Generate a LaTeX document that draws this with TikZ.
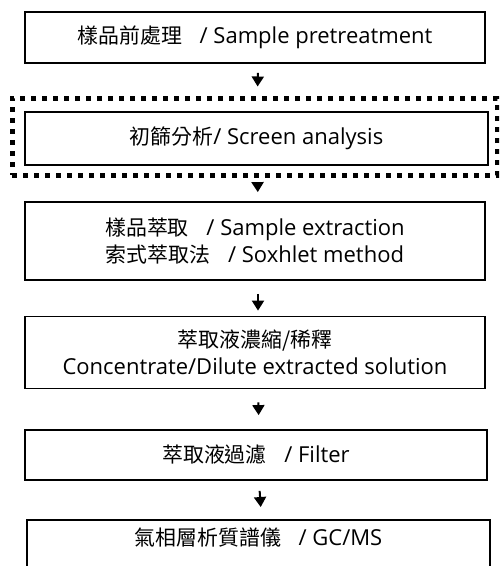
\documentclass[tikz,border=0pt]{standalone}
\usepackage{fontspec}
\setmainfont{Open Sans}
\newfontfamily\cjk[Scale=0.95]{Noto Sans CJK TC}
\definecolor{main}{RGB}{0,0,0}
\usepackage{tikz}
\usetikzlibrary{
	arrows.meta,
	positioning
}
\tikzset{
  % arrow
	cstra/.style      ={-{Triangle[width=12pt,length=10pt]}, line width=2pt, shorten <=9pt, shorten >=9pt}, % down arrow
  % node
	cstbox/.style     ={draw=main,line width=1.8pt,fill=white,align=center,font=\fontsize{22}{27.5}\selectfont,inner sep=0pt},
	cstframe/.style   ={draw=main,line width=5pt,dash pattern=on 5pt off 6pt}, %虚框
}
\newcommand{\zh}[1]{{\cjk #1}}
\newcommand{\sep}{\hspace{0.8em}}

\begin{document}
\begin{tikzpicture}[x=1pt,y=-1pt]
	\clip (0,0) rectangle (499,566);
	\fill[white] (0,0) rectangle (499,566);
	\node[cstbox,minimum width=460,minimum height=51] (prep) at (255,37.5) {\zh{樣品前處理}\sep/ Sample pretreatment};
	\node[cstframe,minimum width=485,minimum height=77] (frame) at (254.5,136.5) {};
	\node[cstbox,minimum width=463,minimum height=53] (screen) at (256.5,138.5) {\zh{初篩分析}/ Screen analysis};
	\node[cstbox,minimum width=460,minimum height=78] (extract) at (255,241) {\zh{樣品萃取}\sep/ Sample extraction\\ \zh{索式萃取法}\sep/ Soxhlet method};
	\node[cstbox,minimum width=460,minimum height=72] (conc) at (255,352.5) {\zh{萃取液濃縮/稀釋}\\ Concentrate/Dilute extracted solution};
	\node[cstbox,minimum width=462,minimum height=50] (filter) at (256,455) {\zh{萃取液過濾}\sep/ Filter};
	\node[cstbox,minimum width=463,minimum height=90,anchor=north,text height=22pt,text depth=60pt,inner ysep=0pt] (gcms) at (258.5,519) {\zh{氣相層析質譜儀}\sep/ GC/MS};
	\draw[cstra] ([xshift=3pt]prep.south) -- ([xshift=3pt]frame.north);
	\draw[cstra,shorten <=5pt] ([xshift=3pt]frame.south) -- ([xshift=3pt]extract.north);
	\draw[cstra,shorten <=13pt,shorten >=5pt] ([xshift=3pt]extract.south) -- ([xshift=3pt]conc.north);
	\draw[cstra,shorten <=13pt,shorten >=14pt] ([xshift=3pt]conc.south) -- ([xshift=3pt]filter.north);
	\draw[cstra,shorten <=10pt,shorten >=12pt] ([xshift=3pt]filter.south) -- ([xshift=3pt]gcms.north);
\end{tikzpicture}
\end{document}
